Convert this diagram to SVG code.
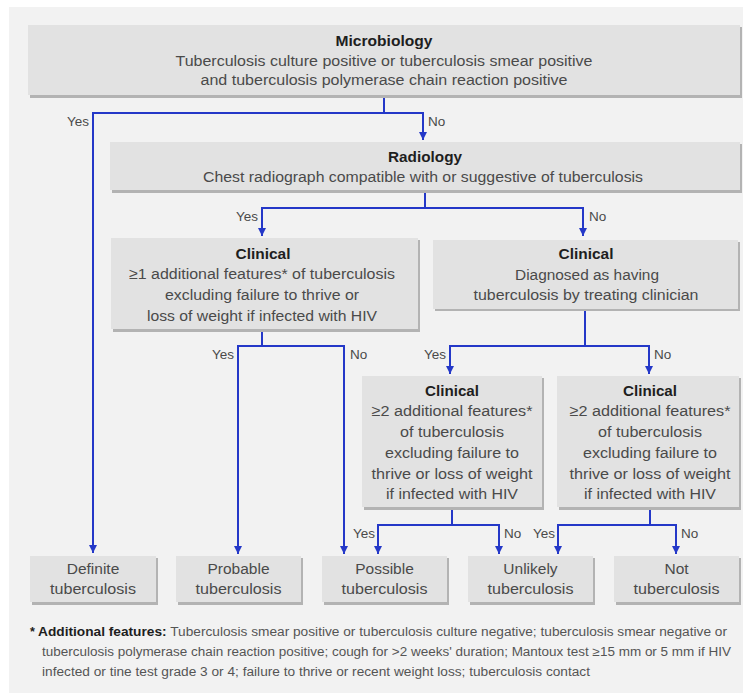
<svg xmlns="http://www.w3.org/2000/svg" width="743" height="693" viewBox="0 0 743 693">
<defs>
<style>
.bg{fill:#f2f2f2}
.sh{fill:#b3b3b3}
.box{fill:#e2e2e2}
.t{font-family:"Liberation Sans",Arial,sans-serif;font-size:15.5px;fill:#4a4a4a;text-anchor:middle}
.h{font-family:"Liberation Sans",Arial,sans-serif;font-size:15.5px;font-weight:bold;fill:#1e1e1e;text-anchor:middle}
.lbl{font-family:"Liberation Sans",Arial,sans-serif;font-size:13.5px;fill:#4a4a4a}
.ly{text-anchor:end}
.fn{font-family:"Liberation Sans",Arial,sans-serif;font-size:12.5px;fill:#555}
.fb{font-weight:bold;fill:#1e1e1e}
.c{fill:none;stroke:#2438c8;stroke-width:2}
</style>
<marker id="ah" markerUnits="userSpaceOnUse" markerWidth="10" markerHeight="10" refX="8" refY="4" orient="auto">
<path d="M0,0 L8,4 L0,8 Z" fill="#2438c8"/>
</marker>
</defs>
<rect x="0" y="0" width="743" height="693" fill="#ffffff"/>
<rect class="bg" x="9" y="7" width="734" height="686"/>

<g id="connectors">
<path class="c" d="M384,97 V113"/>
<path class="c" d="M384,113 H93 V553" marker-end="url(#ah)"/>
<path class="c" d="M384,113 H423 V140" marker-end="url(#ah)"/>
<path class="c" d="M425,192 V208"/>
<path class="c" d="M425,208 H262 V236" marker-end="url(#ah)"/>
<path class="c" d="M425,208 H583 V236" marker-end="url(#ah)"/>
<path class="c" d="M262,330 V346"/>
<path class="c" d="M262,346 H238 V554" marker-end="url(#ah)"/>
<path class="c" d="M262,346 H344 V554" marker-end="url(#ah)"/>
<path class="c" d="M585,309 V346"/>
<path class="c" d="M585,346 H450 V374" marker-end="url(#ah)"/>
<path class="c" d="M585,346 H649 V374" marker-end="url(#ah)"/>
<path class="c" d="M452,508 V525"/>
<path class="c" d="M452,525 H378 V554" marker-end="url(#ah)"/>
<path class="c" d="M452,525 H499 V554" marker-end="url(#ah)"/>
<path class="c" d="M650,508 V525"/>
<path class="c" d="M650,525 H558 V554" marker-end="url(#ah)"/>
<path class="c" d="M650,525 H676 V554" marker-end="url(#ah)"/>
<text class="lbl ly" x="89" y="126">Yes</text>
<text class="lbl" x="428" y="126">No</text>
<text class="lbl ly" x="258" y="221">Yes</text>
<text class="lbl" x="589" y="221">No</text>
<text class="lbl ly" x="234" y="359">Yes</text>
<text class="lbl" x="350" y="359">No</text>
<text class="lbl ly" x="446" y="359">Yes</text>
<text class="lbl" x="654" y="359">No</text>
<text class="lbl ly" x="375" y="538">Yes</text>
<text class="lbl" x="504" y="538">No</text>
<text class="lbl ly" x="555" y="538">Yes</text>
<text class="lbl" x="681" y="538">No</text>
</g>

<g id="microbiology">
<rect class="sh" x="30" y="27" width="712" height="71"/>
<rect class="box" x="28" y="25" width="712" height="70"/>
<text class="h" x="384" y="46" textLength="97" lengthAdjust="spacingAndGlyphs">Microbiology</text>
<text class="t" x="384" y="66" textLength="417" lengthAdjust="spacingAndGlyphs">Tuberculosis culture positive or tuberculosis smear positive</text>
<text class="t" x="384" y="85" textLength="367" lengthAdjust="spacingAndGlyphs">and tuberculosis polymerase chain reaction positive</text>
</g>

<g id="radiology">
<rect class="sh" x="112" y="144" width="630" height="49"/>
<rect class="box" x="110" y="142" width="630" height="48"/>
<text class="h" x="425" y="162" textLength="74" lengthAdjust="spacingAndGlyphs">Radiology</text>
<text class="t" x="423" y="182" textLength="440" lengthAdjust="spacingAndGlyphs">Chest radiograph compatible with or suggestive of tuberculosis</text>
</g>

<g id="clinical-1">
<rect class="sh" x="113" y="240" width="307" height="92"/>
<rect class="box" x="111" y="238" width="307" height="91"/>
<text class="h" x="263" y="259" textLength="55" lengthAdjust="spacingAndGlyphs">Clinical</text>
<text class="t" x="262" y="279" textLength="266" lengthAdjust="spacingAndGlyphs">≥1 additional features* of tuberculosis</text>
<text class="t" x="262" y="300" textLength="194" lengthAdjust="spacingAndGlyphs">excluding failure to thrive or</text>
<text class="t" x="262" y="321" textLength="230" lengthAdjust="spacingAndGlyphs">loss of weight if infected with HIV</text>
</g>

<g id="clinical-2">
<rect class="sh" x="435" y="242" width="305" height="69"/>
<rect class="box" x="433" y="240" width="305" height="69"/>
<text class="h" x="586" y="259" textLength="55" lengthAdjust="spacingAndGlyphs">Clinical</text>
<text class="t" x="587" y="280" textLength="144" lengthAdjust="spacingAndGlyphs">Diagnosed as having</text>
<text class="t" x="586" y="300" textLength="225" lengthAdjust="spacingAndGlyphs">tuberculosis by treating clinician</text>
</g>

<g id="clinical-3">
<rect class="sh" x="364" y="378" width="180" height="132"/>
<rect class="box" x="362" y="376" width="180" height="131"/>
<text class="h" x="452" y="396" textLength="54" lengthAdjust="spacingAndGlyphs">Clinical</text>
<text class="t" x="452" y="416" textLength="161" lengthAdjust="spacingAndGlyphs">≥2 additional features*</text>
<text class="t" x="452" y="437" textLength="104" lengthAdjust="spacingAndGlyphs">of tuberculosis</text>
<text class="t" x="452" y="458" textLength="134" lengthAdjust="spacingAndGlyphs">excluding failure to</text>
<text class="t" x="452" y="479" textLength="161" lengthAdjust="spacingAndGlyphs">thrive or loss of weight</text>
<text class="t" x="452" y="499" textLength="132" lengthAdjust="spacingAndGlyphs">if infected with HIV</text>
</g>

<g id="clinical-4">
<rect class="sh" x="559" y="378" width="182" height="132"/>
<rect class="box" x="557" y="376" width="182" height="131"/>
<text class="h" x="650" y="396" textLength="54" lengthAdjust="spacingAndGlyphs">Clinical</text>
<text class="t" x="650" y="416" textLength="161" lengthAdjust="spacingAndGlyphs">≥2 additional features*</text>
<text class="t" x="650" y="437" textLength="104" lengthAdjust="spacingAndGlyphs">of tuberculosis</text>
<text class="t" x="650" y="458" textLength="134" lengthAdjust="spacingAndGlyphs">excluding failure to</text>
<text class="t" x="650" y="479" textLength="161" lengthAdjust="spacingAndGlyphs">thrive or loss of weight</text>
<text class="t" x="650" y="499" textLength="132" lengthAdjust="spacingAndGlyphs">if infected with HIV</text>
</g>

<g id="definite">
<rect class="sh" x="32" y="558" width="126" height="47"/>
<rect class="box" x="30" y="556" width="126" height="46"/>
<text class="t" x="93" y="574">Definite</text>
<text class="t" x="93" y="594" textLength="86" lengthAdjust="spacingAndGlyphs">tuberculosis</text>
</g>

<g id="probable">
<rect class="sh" x="178" y="558" width="125" height="47"/>
<rect class="box" x="176" y="556" width="125" height="46"/>
<text class="t" x="238.5" y="574">Probable</text>
<text class="t" x="238.5" y="594" textLength="86" lengthAdjust="spacingAndGlyphs">tuberculosis</text>
</g>

<g id="possible">
<rect class="sh" x="324" y="558" width="125" height="47"/>
<rect class="box" x="322" y="556" width="125" height="46"/>
<text class="t" x="384.5" y="574">Possible</text>
<text class="t" x="384.5" y="594" textLength="86" lengthAdjust="spacingAndGlyphs">tuberculosis</text>
</g>

<g id="unlikely">
<rect class="sh" x="470" y="558" width="125" height="47"/>
<rect class="box" x="468" y="556" width="125" height="46"/>
<text class="t" x="530.5" y="574">Unlikely</text>
<text class="t" x="530.5" y="594" textLength="86" lengthAdjust="spacingAndGlyphs">tuberculosis</text>
</g>

<g id="not">
<rect class="sh" x="616" y="558" width="125" height="47"/>
<rect class="box" x="614" y="556" width="125" height="46"/>
<text class="t" x="676.5" y="574">Not</text>
<text class="t" x="676.5" y="594" textLength="86" lengthAdjust="spacingAndGlyphs">tuberculosis</text>
</g>

<g id="footnote">
<text class="fn" x="30" y="636"><tspan class="fb">*</tspan></text>
<text class="fn" x="38" y="636" textLength="689" lengthAdjust="spacingAndGlyphs"><tspan class="fb">Additional features:</tspan> Tuberculosis smear positive or tuberculosis culture negative; tuberculosis smear negative or</text>
<text class="fn" x="42" y="656" textLength="689" lengthAdjust="spacingAndGlyphs">tuberculosis polymerase chain reaction positive; cough for &gt;2 weeks' duration; Mantoux test ≥15 mm or 5 mm if HIV</text>
<text class="fn" x="42" y="676" textLength="548" lengthAdjust="spacingAndGlyphs">infected or tine test grade 3 or 4; failure to thrive or recent weight loss; tuberculosis contact</text>
</g>
</svg>
